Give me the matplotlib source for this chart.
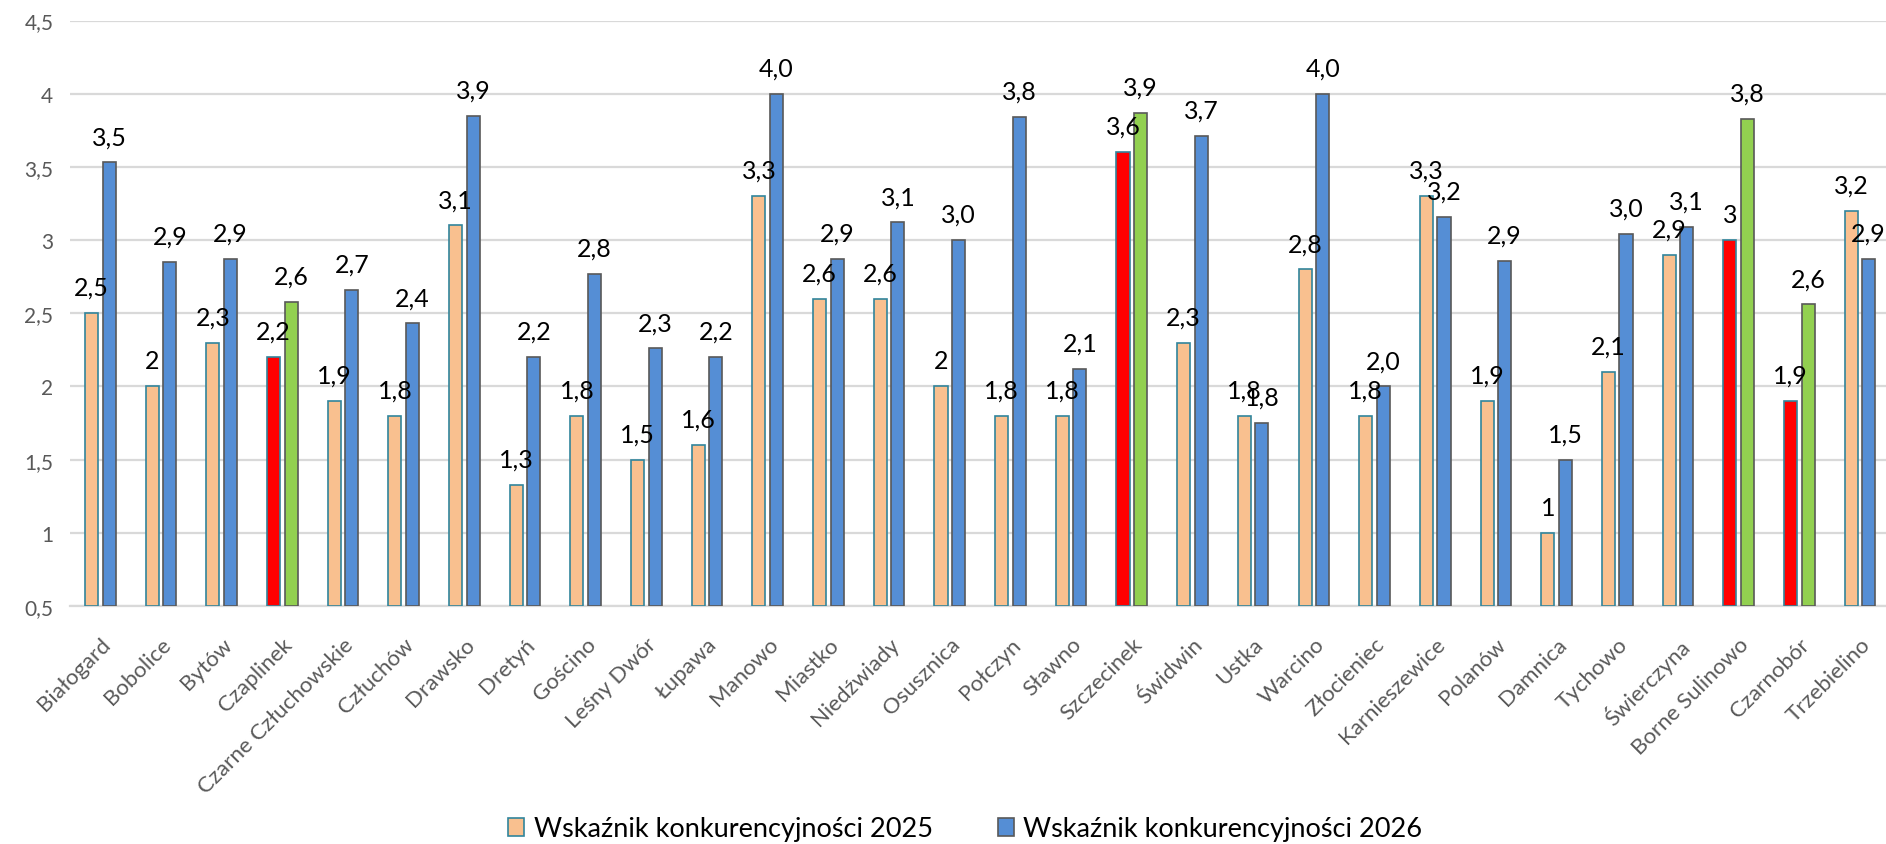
import matplotlib
matplotlib.use('Agg')
import matplotlib.pyplot as plt
import matplotlib.patches as pch
import numpy as np

plt.rcParams['font.family'] = ['Lato', 'DejaVu Sans']

# data
gminy = ['Białogard', 'Bobolice', 'Bytów', 'Czaplinek', 'Czarne Człuchowskie', 'Człuchów',
         'Drawsko', 'Dretyń', 'Gościno', 'Leśny Dwór', 'Łupawa', 'Manowo', 'Miastko',
         'Niedźwiady', 'Osusznica', 'Połczyn', 'Sławno', 'Szczecinek', 'Świdwin', 'Ustka',
         'Warcino', 'Złocieniec', 'Karnieszewice', 'Polanów', 'Damnica', 'Tychowo',
         'Świerczyna', 'Borne Sulinowo', 'Czarnobór', 'Trzebielino']
wsk_2025 = [2.5, 2.0, 2.3, 2.2, 1.9, 1.8, 3.1, 1.33, 1.8, 1.5, 1.6, 3.3, 2.6, 2.6, 2.0,
            1.8, 1.8, 3.6, 2.3, 1.8, 2.8, 1.8, 3.3, 1.9, 1.0, 2.1, 2.9, 3.0, 1.9, 3.2]
wsk_2026 = [3.53, 2.85, 2.87, 2.58, 2.66, 2.43, 3.85, 2.2, 2.77, 2.26, 2.2, 4.0, 2.87,
            3.12, 3.0, 3.84, 2.12, 3.87, 3.71, 1.75, 4.0, 2.0, 3.16, 2.86, 1.5, 3.04,
            3.09, 3.83, 2.56, 2.87]
wyroznione = ['Czaplinek', 'Szczecinek', 'Borne Sulinowo', 'Czarnobór']
yticks = [0.5, 1, 1.5, 2, 2.5, 3, 3.5, 4, 4.5]

c_orange, c_orange_edge = '#F9C08F', '#31859C'
c_blue, c_blue_edge = '#558ED5', '#595959'
c_red, c_green = '#FF0000', '#92D050'
c_grid = '#D9D9D9'
c_text = '#595959'


def fmt_2025(v):
    s = '{:.1f}'.format(v)
    if s.endswith('.0'):
        s = s[:-2]
    return s.replace('.', ',')


def fmt_2026(v):
    return '{:.1f}'.format(v).replace('.', ',')


def fmt_tick(v):
    s = '{:g}'.format(v)
    return s.replace('.', ',')


fig = plt.figure(figsize=(18.86, 8.45), dpi=100)
ax = fig.add_axes([70 / 1886, 1 - 607 / 845, 1816 / 1886, (607 - 21.5) / 845])

x = np.arange(len(gminy))
w = 0.215
off = 0.145
col_25 = [c_red if g in wyroznione else c_orange for g in gminy]
col_26 = [c_green if g in wyroznione else c_blue for g in gminy]

b25 = ax.bar(x - off, np.array(wsk_2025) - 0.5, bottom=0.5, width=w, color=col_25,
             edgecolor=c_orange_edge, linewidth=1.2, zorder=3)
b26 = ax.bar(x + off, np.array(wsk_2026) - 0.5, bottom=0.5, width=w, color=col_26,
             edgecolor=c_blue_edge, linewidth=1.2, zorder=3)

# value labels above bars
for xi, v in zip(x, wsk_2025):
    ax.annotate(fmt_2025(v), (xi - off, v), xytext=(0, 18.5), textcoords='offset points',
                ha='center', va='center', fontsize=18, color='black', zorder=4)
for xi, v in zip(x, wsk_2026):
    ax.annotate(fmt_2026(v), (xi + off, v), xytext=(0, 18.5), textcoords='offset points',
                ha='center', va='center', fontsize=18, color='black', zorder=4)

ax.set_ylim(0.5, 4.5)
ax.set_xlim(-0.5, len(gminy) - 0.57)
ax.set_yticks(yticks)
ax.set_yticklabels([fmt_tick(t) for t in yticks], fontsize=15, color=c_text)
ax.yaxis.grid(True, color=c_grid, linewidth=1.6, zorder=0)
ax.set_axisbelow(True)

ax.set_xticks(x)
ax.set_xticklabels(gminy, rotation=45, ha='right', rotation_mode='anchor',
                   fontsize=16, color=c_text)
ax.tick_params(axis='both', length=0)
ax.tick_params(axis='x', pad=20)
ax.tick_params(axis='y', pad=12)

for s in ['top', 'right', 'left']:
    ax.spines[s].set_visible(False)
ax.spines['bottom'].set_color(c_grid)
ax.spines['bottom'].set_linewidth(1.6)

# legend
handles = [pch.Patch(facecolor=c_orange, edgecolor=c_orange_edge, linewidth=1.2,
                     label='Wskaźnik konkurencyjności 2025'),
           pch.Patch(facecolor=c_blue, edgecolor=c_blue_edge, linewidth=1.2,
                     label='Wskaźnik konkurencyjności 2026')]
fig.legend(handles=handles, loc='center', bbox_to_anchor=(965 / 1886, 1 - 830 / 845),
           ncol=2, frameon=False, fontsize=19.5, handlelength=0.6, handleheight=0.6,
           handletextpad=0.35, columnspacing=2.4, borderaxespad=0, borderpad=0)

fig.savefig('out.png', dpi=100)
